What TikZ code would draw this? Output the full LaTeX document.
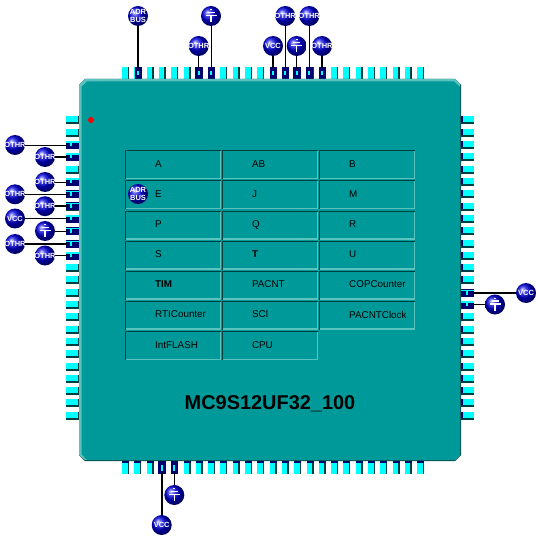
\documentclass[tikz,border=0pt]{standalone}
\usepackage{fontspec}
\setmainfont{Liberation Sans}
\definecolor{chipfill}{RGB}{0,153,153}
\definecolor{chiplight}{RGB}{90,195,190}
\definecolor{chipdark}{RGB}{0,64,64}
\definecolor{pincyan}{RGB}{0,255,255}
\definecolor{pinnavy}{RGB}{0,0,110}
\definecolor{ballblue}{RGB}{0,0,225}
\newcommand{\bt}[1]{\makebox[0pt]{#1}}
\tikzset{
  x=1bp,y=-1bp,
  ball/.style={circle,minimum size=20bp,inner sep=0pt,outer sep=0pt,ball color=ballblue,
    text=white,font=\fontsize{7.5}{7.2}\selectfont\bfseries,align=center},
  gnd/.style={ball,path picture={
     \draw[white,line width=1.2bp]
       ([xshift=-5.5bp,yshift=0.5bp]path picture bounding box.center) -- ([xshift=5.5bp,yshift=0.5bp]path picture bounding box.center)
       ([xshift=-3.5bp,yshift=3.5bp]path picture bounding box.center) -- ([xshift=3.5bp,yshift=3.5bp]path picture bounding box.center)
       ([xshift=-1bp,yshift=6.2bp]path picture bounding box.center) -- ([xshift=1bp,yshift=6.2bp]path picture bounding box.center)
       ([yshift=-6bp]path picture bounding box.center) -- ([yshift=0.5bp]path picture bounding box.center);}},
  thinw/.style={draw=black,line width=0.9bp},
  thickw/.style={draw=black,line width=1.9bp},
  cell/.style={inner sep=0pt,font=\fontsize{9.9}{11}\selectfont,anchor=west,text=black},
}
\begin{document}
\begin{tikzpicture}
\useasboundingbox (0,0) rectangle (537,537);
\fill[white] (0,0) rectangle (537,537);
% ordinary pins on all four sides
\foreach \i in {0,...,24}{
  \pgfmathsetmacro\p{120+12.3*\i}
  \pgfmathsetmacro\q{125+12.3*\i}
  % left
  \fill[pincyan] (66,\p-3.5) rectangle (79,\p+2.5);
  \fill[chipdark] (66,\p+2.5) rectangle (79,\p+4.5);
  \fill[chipdark] (78,\p-3.5) rectangle (79,\p+4.5);
  % right
  \fill[pincyan] (461,\p-3.5) rectangle (474,\p+2.5);
  \fill[chipdark] (461,\p+2.5) rectangle (474,\p+4.5);
  \fill[pinnavy] (461,\p-3.5) rectangle (463,\p+2.5);
  % top
  \fill[pincyan] (\q-3,67) rectangle (\q+2.5,79);
  \fill[chipdark] (\q+2.5,67) rectangle (\q+4,79);
  % bottom
  \fill[pincyan] (\q-3,461) rectangle (\q+2.5,474);
  \fill[chipdark] (\q+2.5,461) rectangle (\q+4,474);
  \fill[pinnavy] (\q-3,461) rectangle (\q+4,463);
}
% connected pins
\foreach \p in {145,157,182,194.3,206.2,218.5,231,244,255.5}{
  \fill[pinnavy] (66,\p-4) rectangle (79,\p+4);
  \fill[pincyan] (66,\p-3.5) rectangle (79,\p-1.8);
  \fill[pincyan] (70,\p-1.8) rectangle (72,\p+1.5);
}
\foreach \p in {293,304.5}{
  \fill[pinnavy] (461,\p-4) rectangle (474,\p+4);
  \fill[pincyan] (461,\p-3.5) rectangle (474,\p-1.8);
  \fill[pincyan] (466,\p-1.8) rectangle (468,\p+1.5);
}
\foreach \q in {138,198.7,211,273,285.3,296.7,309.3,322}{
  \fill[pinnavy] (\q-3.5,67) rectangle (\q+4,79);
  \fill[pincyan] (\q-1,71) rectangle (\q+1,75);
}
\foreach \q in {161.7,174.3}{
  \fill[pinnavy] (\q-3.5,461) rectangle (\q+4,474);
  \fill[pincyan] (\q-1,465) rectangle (\q+1,471);
}
% chip body
\fill[chipdark] (85,79) -- (455,79) -- (461,85) -- (461,455) -- (455,461) -- (85,461) -- (79,455) -- (79,85) -- cycle;
\fill[chiplight] (85,79) -- (455,79) -- (460,84) -- (460,455) -- (455,460) -- (85,460) -- (79,455) -- (79,85) -- cycle;
\fill[chipfill] (87,81.5) -- (454,81.5) -- (460,87) -- (460,455) -- (455,460) -- (87,460) -- (81.5,454) -- (81.5,87) -- cycle;
\fill[red] (91,120) circle (3bp);
% cells
\foreach \n/\cx/\cy/\t in {
  a/125/150/A, ab/221.8/150/AB, b/319/150/B,
  e/125/180/E, j/221.8/180/J, m/319/180/M,
  p/125/210.5/P, qq/221.8/210.5/Q, r/319/210.5/R,
  s/125/240.5/S, tt/221.8/240.5/\textbf{T}, u/319/240.5/U,
  tim/125/270.5/\textbf{TIM}, pacnt/221.8/270.5/PACNT, cop/319/270.5/COPCounter,
  rti/125/300.5/RTICounter, sci/221.8/300.5/SCI, pck/319/300.5/PACNTClock,
  intf/125/331/IntFLASH, cpu/221.8/331/CPU}{
  \fill[chipdark] (\cx,\cy) rectangle (\cx+96,\cy+29);
  \fill[chiplight] (\cx+1,\cy+1) rectangle (\cx+96,\cy+29);
  \fill[chipfill] (\cx+1,\cy+1) rectangle (\cx+94.7,\cy+27.8);
  \node[cell] (\n) at (\cx+30,\cy+14) {\t};
}
\foreach \cx in {125,221.8,319}{
  \fill[chipdark] (\cx,180) rectangle (\cx+95,181.5);
  \fill[chipdark] (\cx,300.5) rectangle (\cx+95,302);
}
\node[font=\fontsize{20}{22}\selectfont\bfseries,text=black] (title) at (270,403.5) {MC9S12UF32\_100};
% connector ends at the pins
\foreach \n/\x/\y in {
 lp1/67/145,lp2/67/157,lp3/67/182,lp4/67/194.3,lp5/67/206.2,lp6/67/218.5,lp7/67/231,lp8/67/244,lp9/67/255.5,
 rp1/474/293,rp2/474/304.5,
 tp1/138/68,tp2/198.7/68,tp3/211/68,tp4/273/68,tp5/285.3/68,tp6/296.7/68,tp7/309.3/68,tp8/322/68,
 bp1/161.7/473,bp2/174.3/473}{\coordinate (\n) at (\x,\y);}
% balls
\node[ball] (t1) at (138,16) {\bt{ADR}\\\bt{BUS}};
\node[gnd]  (t3) at (211,16) {};
\node[ball] (t2) at (198.7,46) {\bt{OTHR}};
\node[ball] (t4) at (273,46) {\bt{VCC}};
\node[ball] (t5) at (285.3,16) {\bt{OTHR}};
\node[gnd]  (t6) at (296.7,46) {};
\node[ball] (t7) at (309.3,16) {\bt{OTHR}};
\node[ball] (t8) at (322,46) {\bt{OTHR}};
\node[ball] (l1) at (15,145) {\bt{OTHR}};
\node[ball] (l2) at (45,157) {\bt{OTHR}};
\node[ball] (l3) at (45,182) {\bt{OTHR}};
\node[ball] (l4) at (15,194.3) {\bt{OTHR}};
\node[ball] (l5) at (45,206.2) {\bt{OTHR}};
\node[ball] (l6) at (15,218.5) {\bt{VCC}};
\node[gnd]  (l7) at (45,231) {};
\node[ball] (l8) at (15,244) {\bt{OTHR}};
\node[ball] (l9) at (45,255.5) {\bt{OTHR}};
\node[ball] (r1) at (526,293) {\bt{VCC}};
\node[gnd]  (r2) at (495,304.5) {};
\node[gnd]  (b2) at (174.3,495) {};
\node[ball] (b1) at (161.7,525) {\bt{VCC}};
\node[ball] (inner) at (138,194) {\bt{ADR}\\\bt{BUS}};
% connectors
\draw[thickw] (t1) -- (tp1);
\draw[thinw] (t2) -- (tp2);
\draw[thinw] (t3) -- (tp3);
\draw[thickw] (t4) -- (tp4);
\draw[thinw] (t5) -- (tp5);
\draw[thinw] (t6) -- (tp6);
\draw[thinw] (t7) -- (tp7);
\draw[thickw] (t8) -- (tp8);
\draw[thinw] (l1) -- (lp1);
\draw[thickw] (l2) -- (lp2);
\draw[thinw] (l3) -- (lp3);
\draw[thinw] (l4) -- (lp4);
\draw[thickw] (l5) -- (lp5);
\draw[thinw] (l6) -- (lp6);
\draw[thinw] (l7) -- (lp7);
\draw[thickw] (l8) -- (lp8);
\draw[thinw] (l9) -- (lp9);
\draw[thickw] (r1) -- (rp1);
\draw[thinw] (r2) -- (rp2);
\draw[thickw] (b1) -- (bp1);
\draw[thinw] (b2) -- (bp2);
\end{tikzpicture}
\end{document}
